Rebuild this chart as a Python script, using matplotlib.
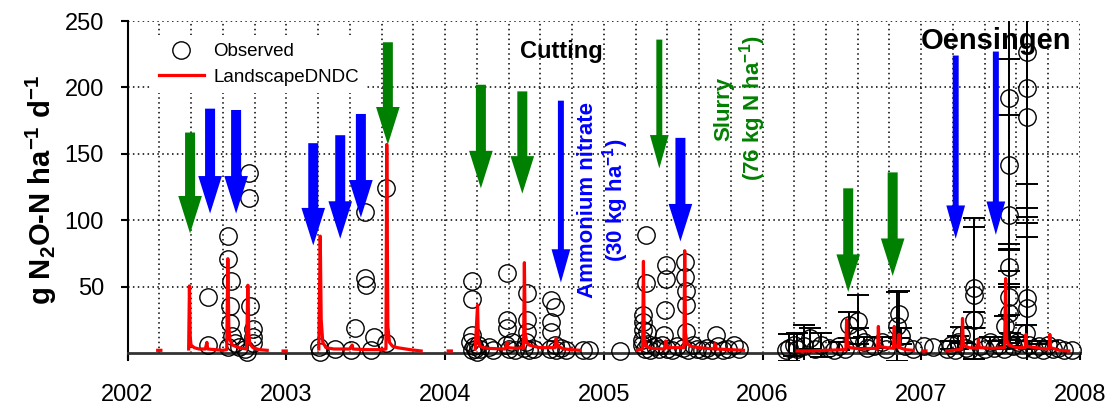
import matplotlib
matplotlib.use('Agg')
import matplotlib.pyplot as plt
from matplotlib.lines import Line2D
import numpy as np

plt.rcParams.update({'font.family': 'Liberation Sans',
                     'mathtext.fontset': 'custom',
                     'mathtext.rm': 'Liberation Sans',
                     'mathtext.bf': 'Liberation Sans:bold',
                     'mathtext.default': 'regular'})

nan = np.nan

# --- observed daily N2O fluxes 2002-2005 (decimal year, flux) ---
obs_t = [
    2002.506, 2002.51, 2002.632, 2002.636, 2002.653, 2002.646, 2002.646, 2002.632, 2002.678, 2002.70,
    2002.74, 2002.755, 2002.766, 2002.766, 2002.772, 2002.789, 2002.79, 2002.79, 2002.66,
    2003.209, 2003.213, 2003.304, 2003.41, 2003.43, 2003.497, 2003.497, 2003.503, 2003.535,
    2003.55, 2003.628, 2003.63,
    2004.17, 2004.17, 2004.17, 2004.16, 2004.18, 2004.19, 2004.20, 2004.21, 2004.17, 2004.22,
    2004.275, 2004.30, 2004.39, 2004.39, 2004.39, 2004.385, 2004.40, 2004.42, 2004.44,
    2004.517, 2004.517, 2004.517, 2004.51, 2004.50, 2004.53, 2004.56, 2004.67, 2004.695,
    2004.67, 2004.67, 2004.69, 2004.66, 2004.70, 2004.73, 2004.76, 2004.87, 2004.905,
    2005.105, 2005.267, 2005.267, 2005.248, 2005.25, 2005.25, 2005.27, 2005.24, 2005.24,
    2005.26, 2005.28, 2005.29, 2005.32, 2005.35, 2005.39, 2005.39, 2005.385, 2005.38, 2005.37,
    2005.40, 2005.43, 2005.46, 2005.51, 2005.51, 2005.515, 2005.515, 2005.515, 2005.50,
    2005.53, 2005.56, 2005.59, 2005.62, 2005.65, 2005.68, 2005.704, 2005.72, 2005.75, 2005.78,
    2005.82, 2005.85,
]
obs_v = [
    42.4, 6, 88.3, 70.8, 54.2, 35.4, 22.8, 4.7, 7.5, 4.7,
    3, 1, 135.8, 116.7, 35.6, 17.8, 12.3, 7.5, 13,
    4.7, 1, 2.8, 2.3, 18.6, 106.4, 56.2, 51.2, 2.3,
    12.3, 124, 7.8,
    54.5, 40.7, 13.5, 8, 5, 3, 1, 6, 2, 3,
    4.3, 2, 60.5, 24.8, 18.6, 6, 3, 8, 2,
    45, 24.8, 16, 8.5, 4, 2, 3, 40, 34.9,
    23.6, 16, 6, 3, 2, 4, 2.3, 2, 2.3,
    1.7, 88.9, 52.5, 28.6, 23.6, 17.3, 16, 10, 6,
    3, 7, 2, 5, 3, 66.3, 55.5, 32.4, 13.5, 6,
    3, 2, 5, 68.8, 57.5, 46.9, 36.1, 16, 4,
    2, 6, 3, 2, 4, 2, 13.5, 5, 2, 3,
    6, 3,
]

# --- observed 2006-2007 with standard deviation (0 = no bar) ---
obs2_t = [
    2006.15, 2006.17, 2006.20, 2006.22, 2006.26, 2006.30, 2006.33, 2006.37, 2006.42, 2006.45,
    2006.48, 2006.52, 2006.545, 2006.60, 2006.60, 2006.64, 2006.66, 2006.70, 2006.75, 2006.78,
    2006.85, 2006.86, 2006.87, 2006.90, 2006.95,
    2007.02, 2007.077, 2007.16, 2007.19, 2007.21, 2007.23, 2007.25, 2007.28, 2007.30,
    2007.333, 2007.333, 2007.333, 2007.37, 2007.40, 2007.43, 2007.46, 2007.49, 2007.52,
    2007.553, 2007.553, 2007.553, 2007.553, 2007.553, 2007.55, 2007.53, 2007.56, 2007.58,
    2007.61, 2007.64, 2007.665, 2007.665, 2007.665, 2007.665, 2007.665, 2007.66, 2007.68,
    2007.71, 2007.74, 2007.77, 2007.80, 2007.83, 2007.86, 2007.90, 2007.95,
]
obs2_v = [
    2, 4, 6, 3, 5, 11, 3, 6, 4, 2,
    5, 3, 21, 24, 13, 8, 4, 5, 8, 3,
    20, 29, 13, 5, 3,
    5, 4.7, 3, 6, 2, 8, 13.5, 4, 2,
    48.7, 43.7, 25, 5, 3, 8, 4, 6, 3,
    191.8, 141.6, 103.9, 65, 42.4, 30, 20, 10, 5,
    8, 3, 226.9, 199.3, 177.9, 41.2, 33.7, 15, 6,
    3, 5, 2, 6, 3, 4, 2, 2,
]
obs2_e = [
    0, 10, 8, 12, 16, 8, 0, 9, 0, 0,
    3, 0, 10, 20, 6, 4, 0, 0, 4, 0,
    26, 18, 6, 0, 0,
    0, 0, 0, 3, 0, 5, 6, 0, 0,
    53, 51, 6, 0, 0, 4, 0, 3, 0,
    110, 80, 75, 13, 35, 20, 8, 5, 0,
    4, 0, 100, 90, 80, 61, 54, 6, 3,
    0, 2, 0, 3, 0, 0, 0, 0,
]

# --- LandscapeDNDC simulated flux (NaN separates runs) ---
mod_t = [
    2002.19, 2002.21, nan,
    2002.385, 2002.39, 2002.395, 2002.40, 2002.42, 2002.45, 2002.49, 2002.50, 2002.505, 2002.55,
    2002.60, 2002.625, 2002.632, 2002.638, 2002.645, 2002.66, 2002.70, 2002.75, 2002.758,
    2002.764, 2002.77, 2002.79, 2002.83, 2002.88, nan,
    2002.98, 2003.0, nan,
    2003.205, 2003.214, 2003.22, 2003.23, 2003.25, 2003.30, 2003.40, 2003.415, 2003.42, 2003.50,
    2003.60, 2003.628, 2003.633, 2003.64, 2003.65, 2003.67, 2003.70, 2003.78, 2003.85, nan,
    2004.02, 2004.04, nan,
    2004.19, 2004.205, 2004.21, 2004.22, 2004.26, 2004.38, 2004.39, 2004.395, 2004.45, 2004.495,
    2004.50, 2004.505, 2004.515, 2004.53, 2004.56, 2004.60, 2004.64, 2004.695, 2004.70, 2004.71,
    2004.75, 2004.80, 2004.85, nan,
    2005.21, 2005.245, 2005.25, 2005.255, 2005.265, 2005.30, 2005.385, 2005.39, 2005.40, 2005.45,
    2005.505, 2005.51, 2005.515, 2005.525, 2005.55, 2005.60, 2005.65, 2005.695, 2005.70, 2005.71,
    2005.80, 2005.88, nan,
    2006.22, 2006.30, 2006.40, 2006.525, 2006.53, 2006.535, 2006.55, 2006.62, 2006.70, 2006.725,
    2006.73, 2006.735, 2006.78, 2006.825, 2006.83, 2006.835, 2006.855, 2006.86, 2006.865,
    2006.90, 2006.95, nan,
    2007.01, 2007.03, nan,
    2007.16, 2007.20, 2007.255, 2007.26, 2007.265, 2007.30, 2007.355, 2007.36, 2007.365, 2007.45,
    2007.525, 2007.532, 2007.538, 2007.55, 2007.60, 2007.655, 2007.66, 2007.665, 2007.75,
    2007.805, 2007.81, 2007.815, 2007.87, 2007.93,
]
mod_v = [
    2, 2, nan,
    3, 50.5, 12, 6, 4, 3, 3, 8, 3, 2.5,
    2, 2.5, 71, 20, 10, 6, 4, 3, 51,
    15, 7, 4, 2.5, 2, nan,
    1.5, 1.5, nan,
    3, 88, 25, 8, 4, 3, 3, 6, 3, 2.5,
    2.5, 3, 157, 20, 8, 5, 4, 2.5, 1.5, nan,
    1.5, 1.5, nan,
    3, 36, 10, 5, 3.5, 3, 8, 4, 3.5, 4,
    68, 15, 8, 6, 5, 4, 4, 4, 11, 5,
    3, 2.5, 2, nan,
    2, 3, 69, 12, 5, 3.5, 3, 9, 4, 4,
    4, 77, 15, 7, 5, 4, 3.5, 3, 7, 3,
    2.5, 2, nan,
    1.5, 1.5, 2, 2.5, 25, 6, 4, 3, 3.5, 3,
    20, 5, 4, 3.5, 20, 6, 4, 14, 4,
    2.5, 2, nan,
    1.5, 1.5, nan,
    1.5, 2, 3, 26, 6, 4, 3.5, 10, 4, 3.5,
    4, 56, 10, 6, 4, 4, 14, 5, 3.5,
    3, 14, 4, 2, 1.5,
]

# --- management events: position, arrow start, arrow tip ---
arr_t = [2002.394, 2002.52, 2002.684, 2003.17, 2003.34, 2003.47, 2003.64, 2004.226, 2004.487,
         2004.73, 2005.35, 2005.483, 2006.54, 2006.82, 2007.217, 2007.47]
arr_top = [166, 184, 183, 158, 164, 180, 234, 202, 197, 190, 236, 162, 124, 136, 224, 227]
arr_tip = [90, 105, 105, 81, 86, 102, 157, 124, 120, 53, 139, 84, 46, 58, 86, 89]
arr_kind = ['g', 'b', 'b', 'b', 'b', 'b', 'g', 'g', 'g', 'b', 'g', 'b', 'g', 'g', 'b', 'b']
arr_fat = [1, 1, 1, 1, 1, 1, 1, 1, 1, 0, 0, 1, 1, 1, 0, 0]

GREEN = '#008000'
BLUE = '#0000ff'

fig = plt.figure(figsize=(11.07, 4.08), dpi=100)
ax = fig.add_axes([0.1152, 0.1176, 0.8604, 0.8309])
ax.set_xlim(2002, 2008)
ax.set_ylim(-5.3, 250)

# dotted grid
grid_kw = dict(color='black', lw=1.1, linestyle=(0, (1, 2.2)), zorder=0)
for gx in np.arange(2002.2, 2008.01, 0.2):
    ax.plot([gx, gx], [0, 250], **grid_kw)
for gy in [50, 100, 150, 200, 250]:
    ax.plot([2002, 2008], [gy, gy], **grid_kw)

# observed
obs2_t = np.array(obs2_t); obs2_v = np.array(obs2_v); obs2_e = np.array(obs2_e, dtype=float)
has_e = obs2_e > 0
ax.errorbar(obs2_t[has_e], obs2_v[has_e], yerr=obs2_e[has_e], fmt='none', ecolor='black',
            elinewidth=1.4, capsize=8, capthick=1.4, zorder=2)
all_t = np.concatenate([obs_t, obs2_t])
all_v = np.concatenate([obs_v, obs2_v])
ax.plot(all_t, all_v, 'o', ms=12.5, mfc='none', mec='black', mew=1.0, zorder=3, clip_on=False)

# model
ax.plot(mod_t, mod_v, color='red', lw=2.3, zorder=4)

# management arrows
for t, top, tip, k, fat in zip(arr_t, arr_top, arr_tip, arr_kind, arr_fat):
    col = GREEN if k == 'g' else BLUE
    if fat:
        style = 'simple,head_length=27,head_width=17,tail_width=7.2'
    else:
        style = 'simple,head_length=24,head_width=13.5,tail_width=4.3'
    ax.annotate('', xy=(t, tip), xytext=(t, top),
                arrowprops=dict(arrowstyle=style, color=col, mutation_scale=1,
                                shrinkA=0, shrinkB=0, lw=0), zorder=5)

ax.text(2004.733, 227, 'Cutting', fontsize=17, fontweight='bold', ha='center', va='center', zorder=6)
ax.text(2007.47, 235, 'Oensingen', fontsize=21, fontweight='bold', ha='center', va='center', zorder=6)
ax.text(2005.004, 115, 'Ammonium nitrate\n(30 kg ha$^{-1}$)', color=BLUE, fontsize=16,
        fontweight='bold', rotation=90, ha='center', va='center', multialignment='center',
        linespacing=1.1, zorder=6)
ax.text(2005.862, 184, 'Slurry\n(76 kg N ha$^{-1}$)', color=GREEN, fontsize=16,
        fontweight='bold', rotation=90, ha='center', va='center', multialignment='center',
        linespacing=1.1, zorder=6)

# axes styling
ax.spines['top'].set_visible(False)
ax.spines['right'].set_visible(False)
ax.spines['bottom'].set_position(('data', 0))
ax.spines['bottom'].set_linewidth(2)
ax.spines['bottom'].set_color('#333333')
ax.spines['left'].set_linewidth(1.5)
ax.set_xticks(range(2002, 2009))
ax.set_xticklabels([str(y) for y in range(2002, 2009)])
ax.set_yticks([50, 100, 150, 200, 250])
ax.tick_params(axis='x', direction='out', length=5, width=1.5, labelsize=17, pad=17)
ax.tick_params(axis='y', direction='out', length=5, width=1.5, labelsize=17, pad=12)
ax.set_ylabel('g N$_2$O-N ha$^{-1}$ d$^{-1}$', fontsize=21, fontweight='bold')
ax.yaxis.set_label_coords(-0.072, 0.5)

handles = [Line2D([], [], marker='o', ls='none', ms=12.5, mfc='none', mec='black', mew=1.0),
           Line2D([], [], color='red', lw=2.3)]
leg = ax.legend(handles, ['Observed', 'LandscapeDNDC'], loc='upper left',
                bbox_to_anchor=(0.015, 0.985), fontsize=13.5, frameon=True, fancybox=False,
                edgecolor='none', facecolor='white', framealpha=1, handlelength=2.4,
                handletextpad=0.5, labelspacing=0.45, borderpad=0.4)
leg.set_zorder(7)

fig.savefig('out.png', dpi=100)
